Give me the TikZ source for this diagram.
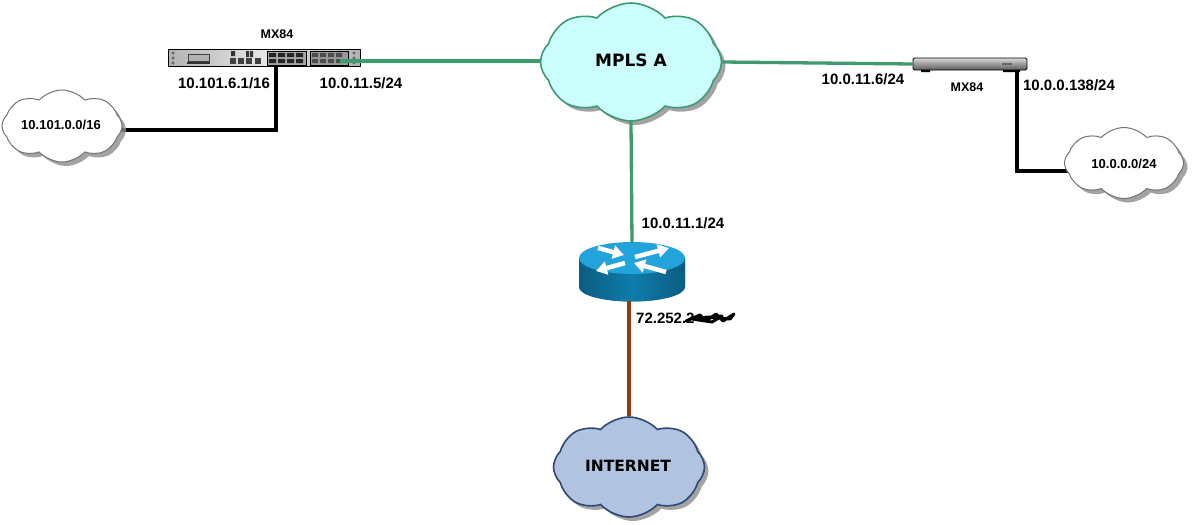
\documentclass[tikz,border=0pt]{standalone}
\usepackage{fontspec}
\setmainfont{Liberation Sans}
\newfontfamily\cloudfont{DejaVu Sans}
\usetikzlibrary{shapes.symbols, shadows, arrows.meta, backgrounds}
\definecolor{linkgreen}{HTML}{3F9A70}
\definecolor{linkbrown}{HTML}{8F3D14}
\definecolor{mplsfill}{HTML}{CCFDFD}
\definecolor{netfill}{HTML}{B1C3DE}
\definecolor{netedge}{HTML}{2C4A74}
\definecolor{routertop}{HTML}{22A3DC}
\definecolor{routerside}{HTML}{0F7CAB}
\tikzset{
  netcloud/.style={cloud, cloud puffs=8, cloud puff arc=95, aspect=1.5, shape border rotate=22.5, draw, inner sep=0pt,
    drop shadow={shadow xshift=4pt, shadow yshift=-4pt, fill=black!45, opacity=.8}},
  addr/.style={font=\bfseries\fontsize{15}{17}\selectfont, inner sep=0pt},
  smalladdr/.style={font=\bfseries\fontsize{13}{15}\selectfont, inner sep=0pt},
  devname/.style={font=\bfseries\fontsize{12.5}{14}\selectfont, inner sep=0pt},
  greenlink/.style={draw=linkgreen, line width=3.3pt},
  blacklink/.style={draw=black, line width=3.5pt, line join=miter},
  brownlink/.style={draw=linkbrown, line width=3.5pt},
  routerarrow/.style={white, line width=4.5pt, -{Triangle[length=11pt, width=13pt]}},
  bigtext/.style={font=\cloudfont\bfseries\fontsize{17}{19}\selectfont}
}
\begin{document}
\begin{tikzpicture}[x=1pt, y=-1pt]
  \useasboundingbox (0,0) rectangle (1192,525);

  % clouds
  \node[netcloud, draw=linkgreen, line width=1.6pt, fill=mplsfill, minimum width=181pt, minimum height=118pt] (mpls) at (631,62) {};
  \node[netcloud, draw=netedge, line width=1.6pt, fill=netfill, minimum width=151pt, minimum height=100pt] (internet) at (629,467) {};
  \node[netcloud, draw=black!55, line width=1pt, fill=white, minimum width=120pt, minimum height=72pt] (lana) at (62,126) {};
  \node[netcloud, draw=black!55, line width=1pt, fill=white, minimum width=119pt, minimum height=71pt] (lanb) at (1124,163) {};

  % devices
  \node[draw=black, line width=.8pt, left color=black!30, right color=black!30, middle color=black!10, minimum width=192pt, minimum height=17pt, inner sep=0pt] (rack) at (264,58) {};
  \node[rounded corners=1.5pt, draw=black, line width=.8pt, top color=black!15, bottom color=black!65, minimum width=114pt, minimum height=12pt, inner sep=0pt] (meraki) at (970,64) {};
  \coordinate (lanport) at (276,62);
  \coordinate (wanport) at (340,61);
  \coordinate (merakiport) at (1017,70);

  % rack front
  \foreach \px in {173,354} {
    \draw[black!70, line width=.6pt] (\px,53) circle (1.3pt) (\px,58) circle (1.3pt) (\px,63) circle (1.3pt);
  }
  \draw[black!75, fill=black!30] (188,54) rectangle (209,61);
  \fill[black!80] (187,62) rectangle (210,64);
  \fill[black!80] (231,51) rectangle (235,56) (246,51) rectangle (249,57) (250,51) rectangle (253,57);
  \foreach \px in {230,238,246,255} {
    \fill[black!75] (\px,58) rectangle +(6,6);
  }
  \draw[black, fill=black!35, line width=.6pt] (267,51) rectangle (306,65);
  \draw[black, fill=black!40, line width=.6pt] (310,51) rectangle (348,65);
  \foreach \px in {269,278,287,296} {
    \fill[black!85] (\px,53) rectangle +(7,4) (\px,59) rectangle +(7,4);
  }
  \foreach \px in {312,320,328,336} {
    \fill[black!70] (\px,53) rectangle +(6,4) (\px,59) rectangle +(6,4);
  }

  % meraki front
  \fill[black!60] (1002,63) rectangle (1012,65);
  \fill[black] (921,70) rectangle (930,72) (1003,70) rectangle (1020,72);

  % router
  \node[minimum width=107pt, minimum height=58pt, inner sep=0pt] (router) at (632,272) {};
  \fill[routerside, left color=routerside!75!black, right color=routerside!75!black, middle color=routerside] (579,258) -- (579,287) arc[start angle=180, end angle=360, x radius=53, y radius=-14.5] -- (685,258) -- cycle;
  \fill[routertop] (632,258) ellipse [x radius=53, y radius=16];
  \draw[routerarrow] (598,248) -- (624,255);
  \draw[routerarrow] (635,257) -- (669,248);
  \draw[routerarrow] (625,263) -- (596,271);
  \draw[routerarrow] (666,272) -- (634,263);

  % links
  \draw[greenlink] (wanport) -- (wanport -| mpls.west);
  \draw[greenlink] (mpls.east) -- (meraki.west);
  \draw[greenlink] (mpls.south) -- (router.north);
  \draw[brownlink] (router.south -| internet.north) -- (internet.north);
  \begin{scope}[on background layer]
    \draw[blacklink] (lana.center |- 0,130) -| (lanport);
    \draw[blacklink] (merakiport) |- (lanb.center |- 0,171);
  \end{scope}

  % labels
  \node[bigtext] (mplstext) at (631,60) {MPLS A};
  \node[bigtext, font=\cloudfont\bfseries\fontsize{15.5}{17}\selectfont] (nettext) at (628,466) {INTERNET};
  \node[smalladdr] (lanatext) at (61,125) {10.101.0.0/16};
  \node[smalladdr] (lanbtext) at (1124,164) {10.0.0.0/24};
  \node[devname] (racktext) at (277,34) {MX84};
  \node[devname] (merakitext) at (967,87) {MX84};
  \node[addr] (lanaddr) at (224,83) {10.101.6.1/16};
  \node[addr] (wanaddr) at (361,83) {10.0.11.5/24};
  \node[addr] (mxaddr) at (863,79) {10.0.11.6/24};
  \node[addr] (lanbaddr) at (1069,85) {10.0.0.138/24};
  \node[addr] (gwaddr) at (683,223) {10.0.11.1/24};
  \node[addr, anchor=west] (wanip) at (636,318) {72.252.2};
  % scribbled out part
  \draw[black, line width=3pt, line cap=round, line join=round] (686,321) -- (700,315) -- (706,321) -- (716,314) -- (723,321) -- (734,314) -- (730,319) -- (708,317) -- (692,319) -- (712,322) -- (722,316) -- (700,318);
\end{tikzpicture}
\end{document}
